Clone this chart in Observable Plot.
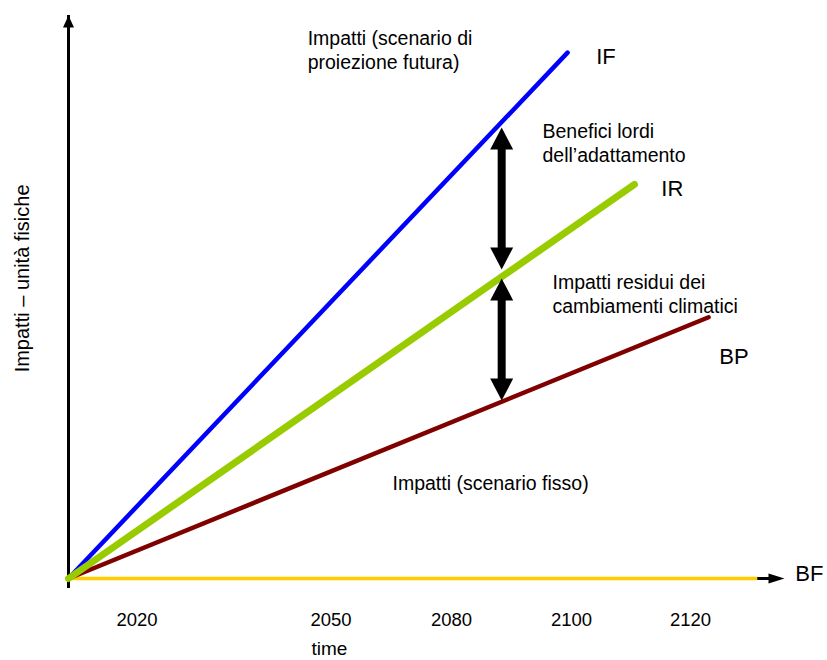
<!DOCTYPE html>
<html>
<head>
<meta charset="utf-8">
<script src="https://cdn.jsdelivr.net/npm/d3@7"></script>
<script src="https://cdn.jsdelivr.net/npm/@observablehq/plot@0.6"></script>
<style>
  html, body { margin: 0; padding: 0; background: #ffffff; }
  #chart svg { display: block; }
</style>
</head>
<body>
<div id="chart"></div>
<script>
// ---- Data (conceptual units: time position 0..100, impact 0..100) ----
const series = ["IF", "IR", "BP", "BF"];
const seriesEndX = [69.7, 79.05, 89.4, 96.2];
const seriesEndY = [93.4, 70.0, 46.4, 0];
const seriesColors = ["#0000ff", "#99cc00", "#800000", "#ffcc00"];
const seriesWidths = [4.5, 7, 4.5, 3.5];
const seriesLabelX = [73.7, 82.8, 90.9, 101.5];
const seriesLabelY = [94.2, 70.8, 40.8, 2.4];

const tickLabels = ["2020", "2050", "2080", "2100", "2120"];
const tickPos = [9.57, 36.66, 53.49, 70.25, 86.87];

const annoText = [
  "Impatti (scenario di\nproiezione futura)",
  "Benefici lordi\ndell\u2019adattamento",
  "Impatti residui dei\ncambiamenti climatici",
  "Impatti (scenario fisso)"
];
const annoX = [33.4, 66.2, 67.6, 45.25];
const annoY = [97.7, 81.2, 54.4, 18.8];

// double-headed arrows: x position, top tip, bottom tip
const arrowX = [60.5, 60.5];
const arrowTop = [80.1, 53.3];
const arrowBottom = [54.9, 31.6];

const xTitle = "time";
const yTitle = "Impatti \u2013 unit\u00e0 fisiche";

// ---- Build tables ----
const drawOrder = ["BF", "BP", "IF", "IR"];
const lineData = [];
drawOrder.forEach((s) => {
  const i = series.indexOf(s);
  lineData.push({s, x: 0, y: 0}, {s, x: seriesEndX[i], y: seriesEndY[i]});
});
const arrows = arrowX.map((x, i) => ({x, top: arrowTop[i], bottom: arrowBottom[i]}));
const labelByPos = new Map(tickPos.map((p, i) => [p, tickLabels[i]]));

// ---- Triangle symbols (tip at origin) ----
const tri = (dir, w, h) => ({
  draw(ctx) {
    if (dir === "up") { ctx.moveTo(0, 0); ctx.lineTo(-w / 2, h); ctx.lineTo(w / 2, h); }
    else if (dir === "down") { ctx.moveTo(0, 0); ctx.lineTo(-w / 2, -h); ctx.lineTo(w / 2, -h); }
    else { ctx.moveTo(0, 0); ctx.lineTo(-h, -w / 2); ctx.lineTo(-h, w / 2); }
    ctx.closePath();
  }
});

const font = "'Liberation Sans', Arial, Helvetica, sans-serif";

const marks = [
  // axes
  Plot.ruleX([0], {y1: 0, y2: 100, stroke: "black", strokeWidth: 3, insetTop: 10}),
  Plot.dot([{x: 0, y: 100}], {x: "x", y: "y", symbol: tri("up", 11, 12), fill: "black", stroke: "none"}),
  Plot.ruleY([0], {x1: 0, x2: 100, stroke: "black", strokeWidth: 3, insetRight: 14}),
  Plot.dot([{x: 100, y: 0}], {x: "x", y: "y", symbol: tri("right", 10, 16), fill: "black", stroke: "none"}),
];

// scenario lines
drawOrder.forEach((s) => {
  const i = series.indexOf(s);
  marks.push(Plot.line(lineData.filter((d) => d.s === s), {
    x: "x", y: "y", stroke: seriesColors[i], strokeWidth: seriesWidths[i],
    strokeLinecap: s === "BF" ? "butt" : "round"
  }));
});

marks.push(
  // double arrows
  Plot.ruleX(arrows, {x: "x", y1: "top", y2: "bottom", stroke: "black", strokeWidth: 8, insetTop: 18, insetBottom: 18}),
  Plot.dot(arrows, {x: "x", y: "top", symbol: tri("up", 23, 22), fill: "black", stroke: "none"}),
  Plot.dot(arrows, {x: "x", y: "bottom", symbol: tri("down", 23, 22), fill: "black", stroke: "none"}),
  // x tick labels
  Plot.axisX(tickPos, {tickSize: 0, tickPadding: 34, fontSize: 18.5, label: null,
    tickFormat: (d) => labelByPos.get(d), fill: "black"}),
  // annotations
  Plot.text(annoText, {x: (d, i) => annoX[i], y: (d, i) => annoY[i], text: (d) => d,
    textAnchor: "start", lineAnchor: "top", fontSize: 19.5, lineHeight: 1.22, fill: "black"}),
  Plot.text(series, {x: (d, i) => seriesLabelX[i], y: (d, i) => seriesLabelY[i], text: (d) => d,
    textAnchor: "start", lineAnchor: "top", fontSize: 22, fill: "black"}),
  // axis titles
  Plot.text([xTitle], {x: 36.45, y: -11.2, text: (d) => d, lineAnchor: "top", fontSize: 19, fill: "black"}),
  Plot.text([yTitle], {x: -6.35, y: 53.3, text: (d) => d, rotate: -90, fontSize: 20, fill: "black"})
);

const chart = Plot.plot({
  width: 827,
  height: 660,
  marginLeft: 68,
  marginRight: 43,
  marginTop: 15,
  marginBottom: 82,
  x: {domain: [0, 100], axis: null},
  y: {domain: [0, 100], axis: null},
  style: {fontFamily: font, background: "#ffffff", overflow: "visible", color: "black"},
  marks
});
document.getElementById("chart").append(chart);
</script>
</body>
</html>
